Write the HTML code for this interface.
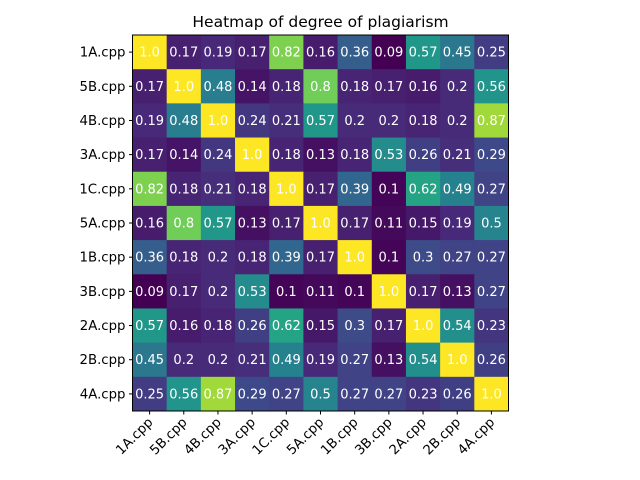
<!DOCTYPE html>
<html><head><meta charset="utf-8"><style>body{margin:0;background:#fff}svg{display:block;font-family:"DejaVu Sans","Liberation Sans",sans-serif}</style></head>
<body>
<svg id="chart" width="640" height="480" viewBox="0 0 640 480">
<text x="320.5" y="27" text-anchor="middle" font-size="15.5">Heatmap of degree of plagiarism</text>
<g id="cells"></g>
<g id="labels"></g>
<g id="axes"></g>
</svg>
<script>
const files = ["1A.cpp","5B.cpp","4B.cpp","3A.cpp","1C.cpp","5A.cpp","1B.cpp","3B.cpp","2A.cpp","2B.cpp","4A.cpp"];
const r1A=[1.0,0.17,0.19,0.17,0.82,0.16,0.36,0.09,0.57,0.45,0.25];
const r5B=[0.17,1.0,0.48,0.14,0.18,0.8,0.18,0.17,0.16,0.2,0.56];
const r4B=[0.19,0.48,1.0,0.24,0.21,0.57,0.2,0.2,0.18,0.2,0.87];
const r3A=[0.17,0.14,0.24,1.0,0.18,0.13,0.18,0.53,0.26,0.21,0.29];
const r1C=[0.82,0.18,0.21,0.18,1.0,0.17,0.39,0.1,0.62,0.49,0.27];
const r5A=[0.16,0.8,0.57,0.13,0.17,1.0,0.17,0.11,0.15,0.19,0.5];
const r1B=[0.36,0.18,0.2,0.18,0.39,0.17,1.0,0.1,0.3,0.27,0.27];
const r3B=[0.09,0.17,0.2,0.53,0.1,0.11,0.1,1.0,0.17,0.13,0.27];
const r2A=[0.57,0.16,0.18,0.26,0.62,0.15,0.3,0.17,1.0,0.54,0.23];
const r2B=[0.45,0.2,0.2,0.21,0.49,0.19,0.27,0.13,0.54,1.0,0.26];
const r4A=[0.25,0.56,0.87,0.29,0.27,0.5,0.27,0.27,0.23,0.26,1.0];
const matrix=[r1A,r5B,r4B,r3A,r1C,r5A,r1B,r3B,r2A,r2B,r4A];

const L=132.5,T=35,W=376,H=376,n=files.length,cw=W/n,ch=H/n;
const xs=i=>L+i*cw, ys=i=>T+i*ch;
const vir=[[68,1,84],[72,40,120],[62,74,137],[49,104,142],[38,130,142],[31,158,137],[53,183,121],[109,205,89],[180,222,44],[253,231,37]];
const all=matrix.flat(),vmin=Math.min(...all),vmax=Math.max(...all);
function col(v){let t=(v-vmin)/(vmax-vmin);t=Math.max(0,Math.min(1,t))*(vir.length-1);const i=Math.min(Math.floor(t),vir.length-2),f=t-i;
return 'rgb('+vir[i].map((c,k)=>Math.round(c+(vir[i+1][k]-c)*f)).join(',')+')';}
const NS="http://www.w3.org/2000/svg";
function mk(tag,attrs,parent){const e=document.createElementNS(NS,tag);for(const k in attrs)e.setAttribute(k,attrs[k]);parent.appendChild(e);return e;}
const gc=document.getElementById('cells'),gl=document.getElementById('labels'),ga=document.getElementById('axes');
matrix.forEach((row,r)=>row.forEach((v,c)=>{
 const rc=mk('rect',{x:xs(c),y:ys(r),width:cw+0.5,height:ch+0.5,fill:col(v)},gc);
 
 
 const t=mk('text',{x:xs(c)+cw/2,y:ys(r)+ch/2+4.5,'text-anchor':'middle','font-size':'13','fill':'#fff'},gl);
 t.textContent=(v===1?'1.0':String(v));
 
 
}));
const fr=mk('rect',{x:L,y:T,width:W,height:H,fill:'none',stroke:'#000','stroke-width':1},ga);


files.forEach((f,i)=>{
 const cy=ys(i)+ch/2,cx=xs(i)+cw/2;
 mk('line',{x1:L-3.5,x2:L,y1:cy,y2:cy,stroke:'#000'},ga);
 const yl=mk('text',{x:L-7,y:cy+4.5,'text-anchor':'end','font-size':'13.3'},ga);
 yl.textContent=f;
 
 
 mk('line',{x1:cx,x2:cx,y1:T+H,y2:T+H+3.5,stroke:'#000'},ga);
 const xl=mk('text',{x:cx+4,y:T+H+12,'text-anchor':'end','font-size':'13.3',transform:'rotate(-45 '+(cx+4)+' '+(T+H+12)+')'},ga);
 xl.textContent=f;
 
 
});
</script>
</body></html>
